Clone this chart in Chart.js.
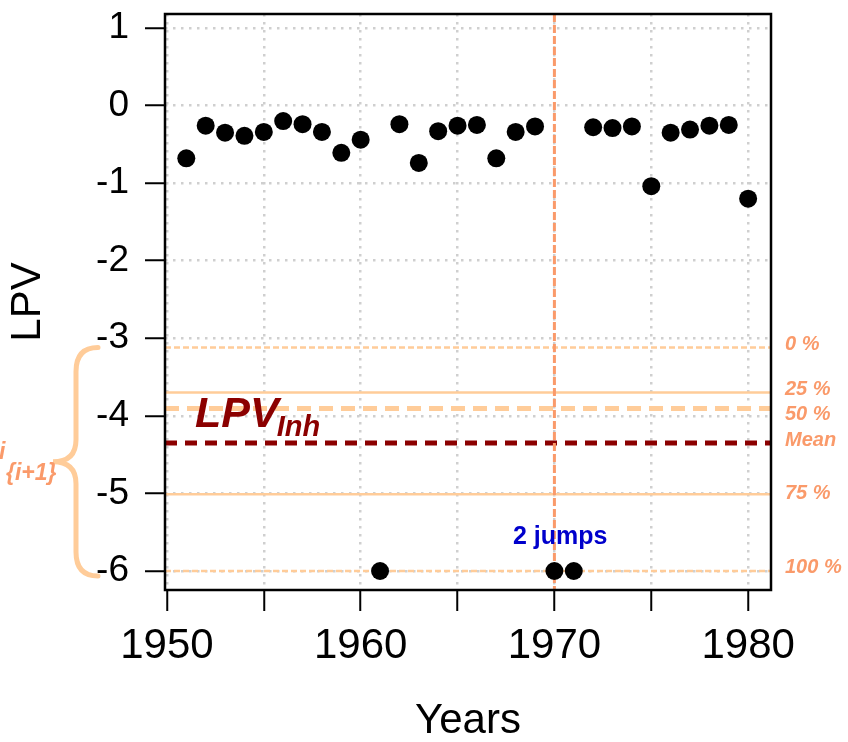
<!DOCTYPE html>
<html>
<head>
<meta charset="utf-8">
<script src="https://cdn.jsdelivr.net/npm/chart.js@4.4.1/dist/chart.umd.min.js"></script>
<style>
  html, body { margin: 0; padding: 0; background: #ffffff; }
  #wrap { width: 848px; height: 742px; }
</style>
</head>
<body>
<div id="wrap"><canvas id="lpvChart" width="848" height="742"></canvas></div>
<script>
// Données
const years = [1951, 1952, 1953, 1954, 1955, 1956, 1957, 1958, 1959, 1960,
               1961, 1962, 1963, 1964, 1965, 1966, 1967, 1968, 1969, 1970,
               1971, 1972, 1973, 1974, 1975, 1976, 1977, 1978, 1979, 1980];
const lpv = [-0.68, -0.26, -0.35, -0.39, -0.34, -0.20, -0.24, -0.34, -0.61, -0.44,
             -6.00, -0.24, -0.74, -0.33, -0.26, -0.25, -0.68, -0.34, -0.27, -6.00,
             -6.00, -0.28, -0.29, -0.27, -1.04, -0.35, -0.31, -0.26, -0.25, -1.20];

const xTicks = [1950, 1955, 1960, 1965, 1970, 1975, 1980];
const xLabels = [1950, 1960, 1970, 1980];
const yTicks = [-6, -5, -4, -3, -2, -1, 0, 1];

// niveaux de LPV_i - LPV_{i+1}
const levelNames = ['0 %', '25 %', '50 %', 'Mean', '75 %', '100 %'];
const levelValues = [-3.12, -3.70, -3.905, -4.35, -5.01, -6.00];
const jumpYear = 1970;

const SALMON = '#fa9a6a';
const PEACH = '#ffcc99';
const FONT = "'Liberation Sans', Arial, sans-serif";

// styles des lignes horizontales (même ordre que levelNames)
const levelStyles = [
    { color: PEACH, width: 2.5, dash: [6, 3] },
    { color: PEACH, width: 2.5, dash: [] },
    { color: PEACH, width: 5, dash: [14, 8] },
    { color: '#8b0000', width: 5, dash: [12, 8] },
    { color: PEACH, width: 2.5, dash: [] },
    { color: PEACH, width: 2.5, dash: [6, 3] }
];
const labelNudge = [-3, -3, 6, -3, -1, -4];

// lignes + cadre dessinés avant les points
const linesPlugin = {
    id: 'lines',
    beforeDatasetsDraw(chart) {
        const { ctx, chartArea: a, scales: { x, y } } = chart;
        ctx.save();
        levelValues.forEach((v, i) => {
            const st = levelStyles[i];
            const py = y.getPixelForValue(v);
            ctx.strokeStyle = st.color;
            ctx.lineWidth = st.width;
            ctx.setLineDash(st.dash);
            ctx.beginPath();
            ctx.moveTo(a.left, py);
            ctx.lineTo(a.right, py);
            ctx.stroke();
        });
        // ligne verticale du saut
        const jx = x.getPixelForValue(jumpYear);
        ctx.strokeStyle = SALMON;
        ctx.lineWidth = 3;
        ctx.setLineDash([8, 3]);
        ctx.beginPath();
        ctx.moveTo(jx, a.top);
        ctx.lineTo(jx, a.bottom);
        ctx.stroke();
        ctx.restore();
    },
    afterDatasetsDraw(chart) {
        const { ctx, chartArea: a, scales: { x, y } } = chart;
        ctx.save();
        // cadre
        ctx.setLineDash([]);
        ctx.strokeStyle = '#000';
        ctx.lineWidth = 2.5;
        ctx.strokeRect(a.left, a.top, a.right - a.left, a.bottom - a.top);

        // étiquettes à droite
        ctx.fillStyle = SALMON;
        ctx.font = 'italic bold 20px ' + FONT;
        ctx.textAlign = 'left';
        ctx.textBaseline = 'middle';
        levelValues.forEach((v, i) => {
            ctx.fillText(levelNames[i], a.right + 14, y.getPixelForValue(v) + labelNudge[i]);
        });

        // LPV_Inh
        ctx.fillStyle = '#8b0000';
        ctx.textBaseline = 'alphabetic';
        ctx.font = 'italic bold 43px ' + FONT;
        const lx = x.getPixelForValue(1951.45);
        const ly = y.getPixelForValue(-4.14);
        ctx.fillText('LPV', lx, ly);
        const w = ctx.measureText('LPV').width;
        ctx.font = 'italic bold 29px ' + FONT;
        ctx.fillText('Inh', lx + w - 2, ly + 9);

        // 2 jumps
        ctx.fillStyle = '#0000cc';
        ctx.font = 'bold 25px ' + FONT;
        ctx.textAlign = 'center';
        ctx.textBaseline = 'middle';
        ctx.fillText('2 jumps', x.getPixelForValue(1970.3), y.getPixelForValue(-5.56));

        // accolade à gauche
        const top = y.getPixelForValue(levelValues[0]);
        const bot = y.getPixelForValue(levelValues[5]) + 5;
        const mid = (top + bot) / 2;
        const xr = 98, xm = 76, xt = 53;
        ctx.strokeStyle = PEACH;
        ctx.lineWidth = 5;
        ctx.lineCap = 'round';
        ctx.beginPath();
        ctx.moveTo(xr, top);
        ctx.quadraticCurveTo(xm, top, xm, top + 24);
        ctx.lineTo(xm, mid - 22);
        ctx.quadraticCurveTo(xm, mid, xt, mid);
        ctx.quadraticCurveTo(xm, mid, xm, mid + 22);
        ctx.lineTo(xm, bot - 24);
        ctx.quadraticCurveTo(xm, bot, xr, bot);
        ctx.stroke();

        ctx.fillStyle = SALMON;
        ctx.font = 'italic bold 23px ' + FONT;
        ctx.textAlign = 'left';
        ctx.fillText('i', -1, mid - 9);
        ctx.fillText('{i+1}', 6, mid + 12);
        ctx.restore();
    }
};

const ctx = document.getElementById('lpvChart').getContext('2d');
new Chart(ctx, {
    type: 'scatter',
    data: {
        datasets: [{
            label: 'LPV',
            data: years.map((yr, i) => ({ x: yr, y: lpv[i] })),
            backgroundColor: '#000',
            borderWidth: 0,
            pointRadius: 9,
            pointHoverRadius: 9
        }]
    },
    options: {
        responsive: false,
        animation: false,
        layout: { padding: { left: 0, right: 77, top: 14, bottom: 0 } },
        plugins: { legend: { display: false }, tooltip: { enabled: false } },
        scales: {
            x: {
                type: 'linear',
                min: 1949.9,
                max: 1981.18,
                afterBuildTicks: (s) => { s.ticks = xTicks.map(v => ({ value: v })); },
                afterFit: (s) => {
                    s.height = 152;
                    s.paddingLeft = 0; s.paddingRight = 0; s.paddingTop = 0; s.paddingBottom = 0;
                },
                ticks: {
                    autoSkip: false,
                    maxRotation: 0,
                    padding: 10,
                    color: '#000',
                    font: { family: FONT, size: 42 },
                    callback: (v) => xLabels.includes(v) ? String(v) : ''
                },
                grid: {
                    color: '#cfcfcf',
                    lineWidth: 2.5,
                    tickColor: '#000',
                    tickWidth: 2,
                    tickLength: 21,
                    tickBorderDash: []
                },
                border: { display: false, dash: [2.5, 5.5] },
                title: {
                    display: true,
                    text: 'Years',
                    color: '#000',
                    font: { family: FONT, size: 42, lineHeight: 1.0 },
                    padding: { top: 0, bottom: 0 }
                }
            },
            y: {
                type: 'linear',
                min: -6.245,
                max: 1.18,
                afterBuildTicks: (s) => { s.ticks = yTicks.map(v => ({ value: v })); },
                afterFit: (s) => {
                    s.width = 165;
                    s.paddingLeft = 0; s.paddingRight = 0; s.paddingTop = 0; s.paddingBottom = 0;
                },
                ticks: {
                    autoSkip: false,
                    padding: 16,
                    color: '#000',
                    font: { family: FONT, size: 37 },
                    callback: (v) => String(v)
                },
                grid: {
                    color: '#cfcfcf',
                    lineWidth: 2.5,
                    tickColor: '#000',
                    tickWidth: 2,
                    tickLength: 20,
                    tickBorderDash: []
                },
                border: { display: false, dash: [2.5, 5.5] },
                title: {
                    display: true,
                    text: 'LPV',
                    color: '#000',
                    font: { family: FONT, size: 42 },
                    padding: { top: 3, bottom: 0 }
                }
            }
        }
    },
    plugins: [linesPlugin]
});
</script>
</body>
</html>
